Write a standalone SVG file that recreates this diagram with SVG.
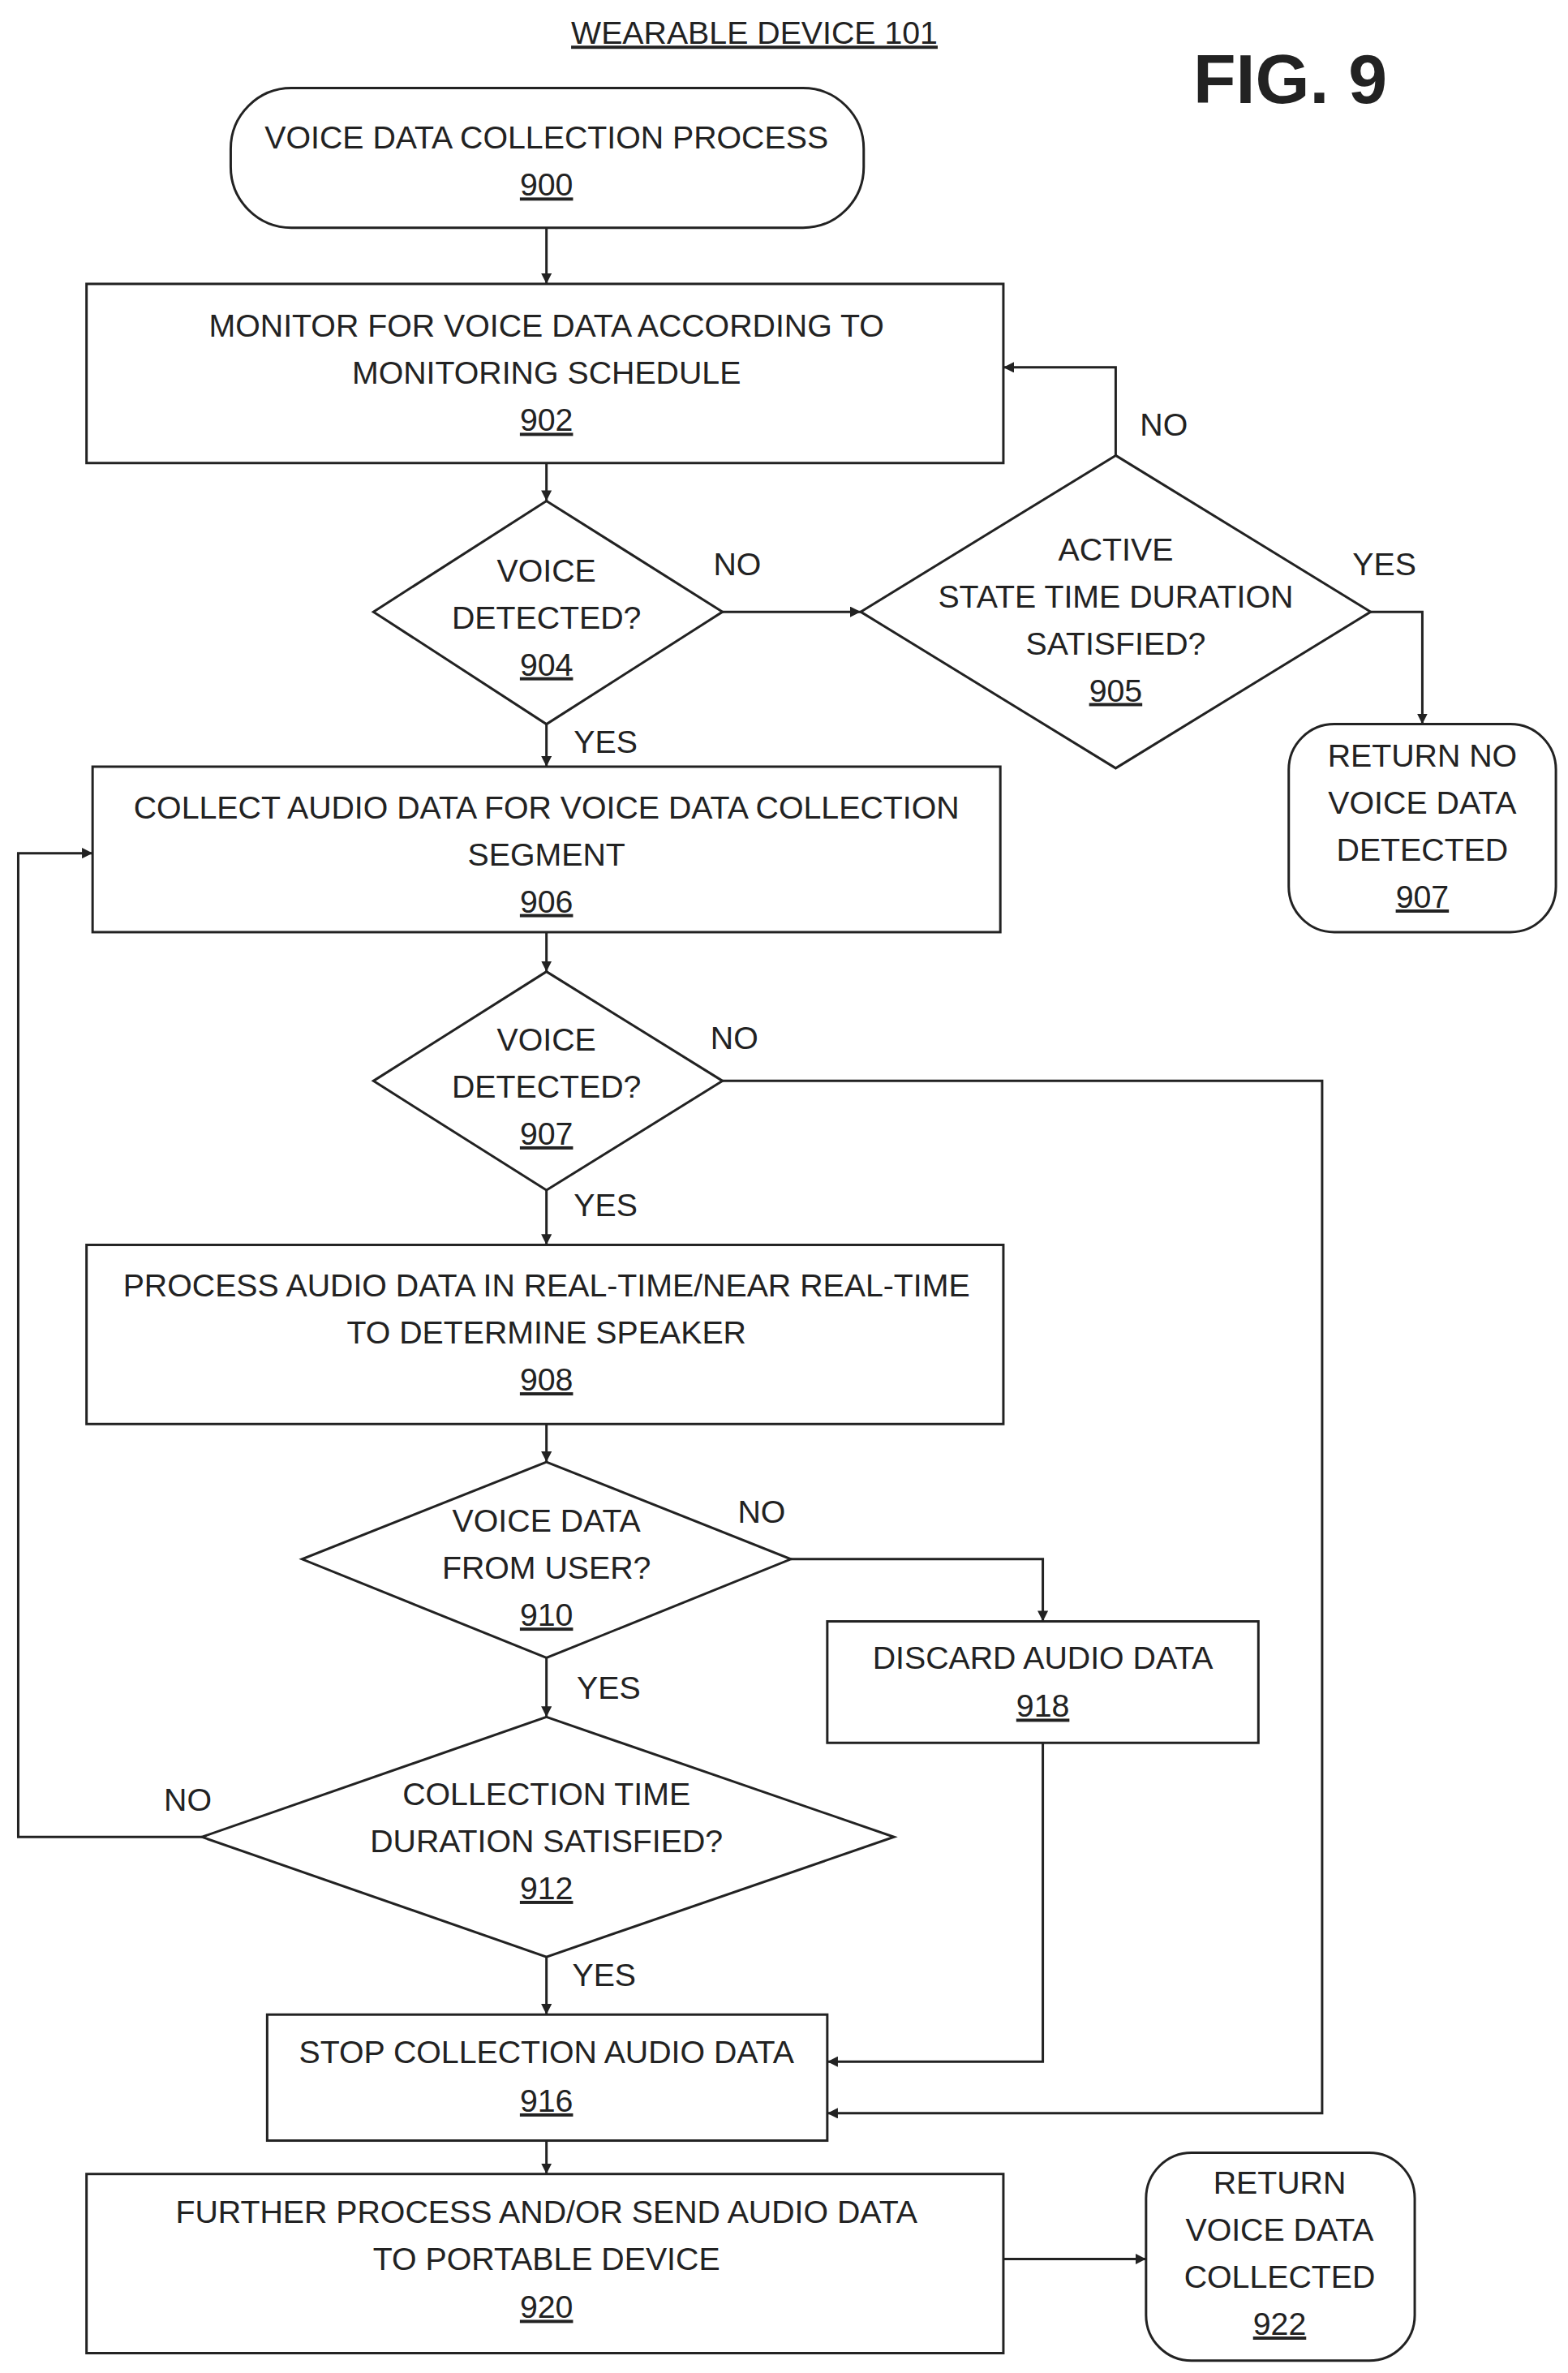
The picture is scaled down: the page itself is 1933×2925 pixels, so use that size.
<svg xmlns="http://www.w3.org/2000/svg" width="1933" height="2925" viewBox="0 0 1933 2925">
<style>
.s{fill:#fff;stroke:#222;stroke-width:1.6}
.c{fill:none;stroke:#222;stroke-width:1.6}
text{font-family:"Liberation Sans",Arial,sans-serif;font-size:21px;fill:#222;text-anchor:middle}
.n{text-decoration:underline}
.l{text-anchor:start}
</style>
<defs><marker id="a" viewBox="0 0 10 10" refX="10" refY="5" markerWidth="7" markerHeight="7" orient="auto" markerUnits="userSpaceOnUse"><path d="M0,0L10,5L0,10z" fill="#222"/></marker></defs>
<rect width="1933" height="2925" fill="#fff"/>
<g transform="scale(1.8713)">
<text x="497" y="29" class="n">WEARABLE DEVICE 101</text>
<text x="850" y="68" style="font-size:46px;font-weight:bold">FIG. 9</text>
<g id="n900"><rect class="s" x="152" y="58" width="417" height="92" rx="40"/><text x="360" y="98">VOICE DATA COLLECTION PROCESS</text><text x="360" y="129" class="n">900</text></g>
<g id="n902"><rect class="s" x="57" y="187" width="604" height="118"/><text x="360" y="222">MONITOR FOR VOICE DATA ACCORDING TO</text><text x="360" y="253">MONITORING SCHEDULE</text><text x="360" y="284" class="n">902</text></g>
<g id="n904"><polygon class="s" points="360,330 476,403 360,477 246,403"/><text x="360" y="383">VOICE</text><text x="360" y="414">DETECTED?</text><text x="360" y="445" class="n">904</text></g>
<g id="n905"><polygon class="s" points="735,300 903,403 735,506 567,403"/><text x="735" y="369">ACTIVE</text><text x="735" y="400">STATE TIME DURATION</text><text x="735" y="431">SATISFIED?</text><text x="735" y="462" class="n">905</text></g>
<g id="n907t"><rect class="s" x="849" y="477" width="176" height="137" rx="30"/><text x="937" y="505">RETURN NO</text><text x="937" y="536">VOICE DATA</text><text x="937" y="567">DETECTED</text><text x="937" y="598" class="n">907</text></g>
<g id="n906"><rect class="s" x="61" y="505" width="598" height="109"/><text x="360" y="539">COLLECT AUDIO DATA FOR VOICE DATA COLLECTION</text><text x="360" y="570">SEGMENT</text><text x="360" y="601" class="n">906</text></g>
<g id="n907"><polygon class="s" points="360,640 476,712 360,784 246,712"/><text x="360" y="692">VOICE</text><text x="360" y="723">DETECTED?</text><text x="360" y="754" class="n">907</text></g>
<g id="n908"><rect class="s" x="57" y="820" width="604" height="118"/><text x="360" y="854">PROCESS AUDIO DATA IN REAL-TIME/NEAR REAL-TIME</text><text x="360" y="885">TO DETERMINE SPEAKER</text><text x="360" y="916" class="n">908</text></g>
<g id="n910"><polygon class="s" points="360,963 521,1027 360,1092 199,1027"/><text x="360" y="1009">VOICE DATA</text><text x="360" y="1040">FROM USER?</text><text x="360" y="1071" class="n">910</text></g>
<g id="n918"><rect class="s" x="545" y="1068" width="284" height="80"/><text x="687" y="1099">DISCARD AUDIO DATA</text><text x="687" y="1131" class="n">918</text></g>
<g id="n912"><polygon class="s" points="360,1131 589,1210 360,1289 133,1210"/><text x="360" y="1189">COLLECTION TIME</text><text x="360" y="1220">DURATION SATISFIED?</text><text x="360" y="1251" class="n">912</text></g>
<g id="n916"><rect class="s" x="176" y="1327" width="369" height="83"/><text x="360" y="1359">STOP COLLECTION AUDIO DATA</text><text x="360" y="1391" class="n">916</text></g>
<g id="n920"><rect class="s" x="57" y="1432" width="604" height="118"/><text x="360" y="1464">FURTHER PROCESS AND/OR SEND AUDIO DATA</text><text x="360" y="1495">TO PORTABLE DEVICE</text><text x="360" y="1527" class="n">920</text></g>
<g id="n922"><rect class="s" x="755" y="1418" width="177" height="137" rx="30"/><text x="843" y="1445">RETURN</text><text x="843" y="1476">VOICE DATA</text><text x="843" y="1507">COLLECTED</text><text x="843" y="1538" class="n">922</text></g>
<g id="connectors">
<path class="c" marker-end="url(#a)" d="M360,150V187"/>
<path class="c" marker-end="url(#a)" d="M360,305V330"/>
<path class="c" marker-end="url(#a)" d="M476,403H567"/>
<path class="c" marker-end="url(#a)" d="M735,300V242H661"/>
<path class="c" marker-end="url(#a)" d="M903,403H937V477"/>
<path class="c" marker-end="url(#a)" d="M360,477V505"/>
<path class="c" marker-end="url(#a)" d="M360,614V640"/>
<path class="c" marker-end="url(#a)" d="M476,712H871V1392H545"/>
<path class="c" marker-end="url(#a)" d="M360,784V820"/>
<path class="c" marker-end="url(#a)" d="M360,938V963"/>
<path class="c" marker-end="url(#a)" d="M521,1027H687V1068"/>
<path class="c" marker-end="url(#a)" d="M687,1148V1358H545"/>
<path class="c" marker-end="url(#a)" d="M360,1092V1131"/>
<path class="c" marker-end="url(#a)" d="M133,1210H12V562H61"/>
<path class="c" marker-end="url(#a)" d="M360,1289V1327"/>
<path class="c" marker-end="url(#a)" d="M360,1410V1432"/>
<path class="c" marker-end="url(#a)" d="M661,1488H755"/>
<text x="470" y="379" class="l">NO</text>
<text x="751" y="287" class="l">NO</text>
<text x="891" y="379" class="l">YES</text>
<text x="378" y="496" class="l">YES</text>
<text x="468" y="691" class="l">NO</text>
<text x="378" y="801" class="l">YES</text>
<text x="486" y="1003" class="l">NO</text>
<text x="380" y="1119" class="l">YES</text>
<text x="108" y="1193" class="l">NO</text>
<text x="377" y="1308" class="l">YES</text>
</g>
</g>
</svg>
